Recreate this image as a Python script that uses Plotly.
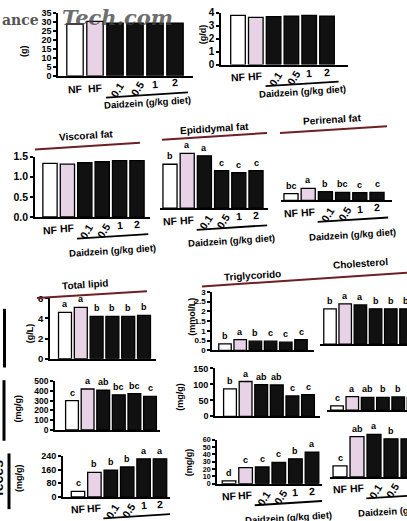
import math
import plotly.graph_objects as go

W, H = 407, 521

# ---------------- data ----------------
categories = ["NF", "HF", "0.1", "0.5", "1", "2"]
daidzein_label = "Daidzein (g/kg diet)"

body_weight = [29, 30.5, 29.5, 29.5, 29.5, 29.5]
food_intake = [3.8, 3.65, 3.7, 3.75, 3.8, 3.75]

visceral_fat = [1.33, 1.31, 1.35, 1.37, 1.40, 1.40]
epididymal_fat = [1.09, 1.36, 1.30, 0.93, 0.88, 0.93]
epididymal_letters = ["b", "a", "a", "c", "c", "c"]
perirenal_fat = [0.17, 0.30, 0.22, 0.20, 0.19, 0.20]
perirenal_letters = ["bc", "a", "b", "bc", "c", "c"]

serum_total_lipid = [4.6, 5.1, 4.2, 4.2, 4.2, 4.3]
serum_total_lipid_letters = ["a", "a", "b", "b", "b", "b"]
serum_tg = [0.33, 0.55, 0.47, 0.47, 0.42, 0.55]
serum_tg_letters = ["b", "a", "b", "c", "c", "c"]
serum_chol = [1.8, 2.05, 2.0, 1.8, 1.8, 1.8]
serum_chol_letters = ["b", "a", "a", "b", "b", "b"]

liver_total_lipid = [300, 420, 407, 360, 373, 345]
liver_total_lipid_letters = ["c", "a", "ab", "bc", "bc", "c"]
liver_tg = [86, 109, 99, 98, 64, 68]
liver_tg_letters = ["b", "a", "ab", "ab", "c", "c"]
liver_chol = [13, 42, 40, 40, 41, 40]
liver_chol_letters = ["c", "a", "ab", "b", "b", "b"]

fecal_lipid = [32, 143, 156, 175, 223, 223]
fecal_lipid_letters = ["c", "b", "b", "b", "a", "a"]
fecal_tg = [4, 22, 23, 29, 34, 43]
fecal_tg_letters = ["d", "c", "c", "c", "b", "a"]
fecal_chol = [15, 55, 58, 52, 52, 52]
fecal_chol_letters = ["c", "ab", "a", "b", "b", "b"]

bw_ticks = [0, 5, 10, 15, 20, 25, 30, 35]
fi_ticks = [0, 1, 2, 3, 4]
fat_ticks = [0, 0.5, 1.0, 1.5]
fat_ticktext = ["0.0", "0.5", "1.0", "1.5"]
tl_ticks = [0, 2, 4, 6]
mmol_ticks = [0, 0.5, 1, 1.5, 2, 2.5, 3]
mmol_ticktext = ["0", "0.5", "1", "1.5", "2", "2.5", "3"]
liver_tl_ticks = [0, 100, 200, 300, 400, 500]
liver_lip_ticks = [0, 50, 100, 150]
fecal_tl_ticks = [0, 80, 160, 240]
fecal_lip_ticks = [0, 10, 20, 30, 40, 50, 60]

fat_titles = ["Viscoral fat", "Epididymal fat", "Perirenal fat"]
lipid_titles = ["Total lipid", "Triglycorido", "Cholesterol"]
y_titles = ["(g)", "(g/d)", "(g/L)", "(mmol/L)", "(mg/g)", "(mg/g)", "(mg/g)", "(mg/g)"]

# ---------------- layout helpers ----------------
FONT = "Liberation Sans, Arial, sans-serif"
S = 0.065                       # slight tilt of the scanned figure
ANG = -math.degrees(math.atan(S))
BAR_COLORS = ["#ffffff", "#e8d2e6", "#111111", "#111111", "#111111", "#111111"]


def px(x):
    return x / W


def py(y):
    return 1 - y / H


panels = [
    dict(vals=body_weight, letters=None, axis=True, ticks=bw_ticks, tsize=9, left=58, nf=75, sp=20, right=193,
         base=71.5, pxu=1.83, ymax=35, xlabels=True, toff=29),
    dict(vals=food_intake, letters=None, axis=True, ticks=fi_ticks, tsize=10, left=221, nf=238, sp=17.8,
         right=348, base=60, pxu=13.25, ymax=4, xlabels=True, toff=29),
    dict(vals=visceral_fat, letters=None, axis=True, ticks=fat_ticks, ticktext=fat_ticktext, tsize=10.5,
         left=35, nf=50, sp=17.4, right=150, base=216, pxu=41.3, ymax=1.5, xlabels=True, toff=36),
    dict(vals=epididymal_fat, letters=epididymal_letters, axis=False, left=160, nf=170, sp=17.2, right=268,
         base=207, pxu=41.3, ymax=1.5, xlabels=True, toff=34),
    dict(vals=perirenal_fat, letters=perirenal_letters, axis=False, left=281, nf=291, sp=17.2, right=392,
         base=199, pxu=41.3, ymax=1.5, xlabels=True, toff=36),
    dict(vals=serum_total_lipid, letters=serum_total_lipid_letters, axis=True, ticks=tl_ticks, tsize=9.5,
         left=50, nf=65, sp=15.8, right=156, base=361, pxu=10.3, ymax=6),
    dict(vals=serum_tg, letters=serum_tg_letters, axis=True, ticks=mmol_ticks, ticktext=mmol_ticktext,
         tsize=8, left=212, nf=225, sp=15.2, right=314, base=352.5, pxu=20, ymax=3),
    dict(vals=serum_chol, letters=serum_chol_letters, axis=False, left=320, nf=330, sp=15.2, right=407,
         base=346, pxu=20, ymax=3),
    dict(vals=liver_total_lipid, letters=liver_total_lipid_letters, axis=True, ticks=liver_tl_ticks,
         tsize=8.5, left=55, nf=72, sp=15.6, right=160, base=434, pxu=0.1, ymax=500),
    dict(vals=liver_tg, letters=liver_tg_letters, axis=True, ticks=liver_lip_ticks, tsize=9,
         left=215, nf=230, sp=15.6, right=320, base=420, pxu=0.327, ymax=150),
    dict(vals=liver_chol, letters=liver_chol_letters, axis=False, left=327, nf=337, sp=15.3, right=407,
         base=413.6, pxu=0.327, ymax=150),
    dict(vals=fecal_lipid, letters=fecal_lipid_letters, axis=True, ticks=fecal_tl_ticks, tsize=9,
         left=63, nf=78, sp=16.4, right=170, base=502.5, pxu=0.175, ymax=240, xlabels=True, toff=36),
    dict(vals=fecal_tg, letters=fecal_tg_letters, axis=True, ticks=fecal_lip_ticks, tsize=7.2,
         left=217, nf=229, sp=16.6, right=322, base=489, pxu=0.75, ymax=60, xlabels=True, toff=36),
    dict(vals=fecal_chol, letters=fecal_chol_letters, axis=False, left=330, nf=340, sp=17, right=407,
         base=482, pxu=0.75, ymax=60, xlabels=True, toff=36),
]

fig = go.Figure()
annotations = []
shapes = []
layout = {}


def tilt_y(p, xpx, off):
    cx = p["nf"] + 2.5 * p["sp"]
    return p["base"] + off - S * (xpx - cx)


def bold(size, color="#000000", family=FONT):
    return dict(family=family, size=size, color=color, weight="bold")


for k, p in enumerate(panels, start=1):
    xa = "x" if k == 1 else f"x{k}"
    ya = "y" if k == 1 else f"y{k}"
    xkey = "xaxis" if k == 1 else f"xaxis{k}"
    ykey = "yaxis" if k == 1 else f"yaxis{k}"
    xs = list(range(len(categories)))

    fig.add_trace(go.Bar(
        x=xs, y=p["vals"], xaxis=xa, yaxis=ya, width=0.82,
        marker=dict(color=BAR_COLORS, line=dict(color="#000000", width=1.3)),
        showlegend=False, hoverinfo="skip"))

    x0r = (p["left"] - p["nf"]) / p["sp"]
    x1r = (p["right"] - p["nf"]) / p["sp"]
    layout[xkey] = dict(domain=[px(p["left"]), px(p["right"])], range=[x0r, x1r], anchor=ya,
                        showline=True, linecolor="#000000", linewidth=1.6, ticks="",
                        showticklabels=False, showgrid=False, zeroline=False, fixedrange=True)
    ytop = p["base"] - p["ymax"] * p["pxu"]
    yax = dict(domain=[py(p["base"]), py(ytop)], range=[0, p["ymax"]], anchor=xa,
               showgrid=False, zeroline=False, fixedrange=True)
    if p["axis"]:
        yax.update(showline=True, linecolor="#000000", linewidth=1.6, ticks="outside",
                   ticklen=3, tickwidth=1.5, tickcolor="#000000", tickvals=p["ticks"],
                   ticktext=p.get("ticktext", [str(t) for t in p["ticks"]]),
                   tickfont=bold(p.get("tsize", 9.5)))
    else:
        yax.update(visible=False)
    layout[ykey] = yax

    # significance letters
    if p["letters"]:
        for j, (v, t) in enumerate(zip(p["vals"], p["letters"])):
            annotations.append(dict(x=j, y=v, xref=xa, yref=ya, text=t, showarrow=False,
                                    xanchor="center", yanchor="bottom", yshift=1, font=bold(9)))

    # category labels and daidzein bracket
    if p.get("xlabels"):
        for j, c in enumerate(categories):
            xpx = p["nf"] + j * p["sp"]
            rot = c in ("0.1", "0.5")
            yy = tilt_y(p, xpx, 14 if rot else 10)
            annotations.append(dict(x=j + (0.1 if rot else 0), y=py(yy), xref=xa, yref="paper",
                                    text=c, showarrow=False, xanchor="center", yanchor="middle",
                                    textangle=-58 if rot else ANG, font=bold(10.5)))
        lx0, lx1 = 1.55, 5.65
        shapes.append(dict(type="line", xref=xa, yref="paper",
                           x0=lx0, x1=lx1,
                           y0=py(tilt_y(p, p["nf"] + lx0 * p["sp"], 21)),
                           y1=py(tilt_y(p, p["nf"] + lx1 * p["sp"], 21)),
                           line=dict(color="#000000", width=1.8)))
        tx = 3.6
        annotations.append(dict(x=tx, y=py(tilt_y(p, p["nf"] + tx * p["sp"], p["toff"])), xref=xa,
                                yref="paper", text=daidzein_label, showarrow=False,
                                textangle=ANG, xanchor="center", yanchor="middle", font=bold(9.5)))


def paper_text(t, x, y, size, angle=0.0, font=None):
    annotations.append(dict(x=px(x), y=py(y), xref="paper", yref="paper", text=t, showarrow=False,
                            xanchor="center", yanchor="middle", textangle=angle,
                            font=font or bold(size)))


# panel titles with maroon rules
title_pos = [(86, 133), (214, 125), (332, 116)]
title_lines = [((35, 147), (140, 140)), ((162, 137), (267, 130)), ((280, 130), (387, 123))]
for t, (x, y) in zip(fat_titles, title_pos):
    paper_text(t, x, y, 10, ANG)
lip_pos = [(85, 285), (252, 276), (360, 264)]
for t, (x, y) in zip(lipid_titles, lip_pos):
    paper_text(t, x, y, 10, ANG)
title_lines += [((37, 299), (147, 292)), ((202, 287), (407, 273))]
for (a, b) in title_lines:
    shapes.append(dict(type="line", xref="paper", yref="paper", x0=px(a[0]), y0=py(a[1]),
                       x1=px(b[0]), y1=py(b[1]), line=dict(color="#6e1f24", width=2)))

# y-axis titles
yt_pos = [(24, 46), (203, 29), (30, 335), (192, 318), (18, 412), (180, 400), (19, 483), (189, 467)]
for t, (x, y) in zip(y_titles, yt_pos):
    paper_text(t, x, y, 9, -90)

# row group markers on the far left
for (x, y0, y1) in [(4.5, 310, 370), (4, 383, 445), (9, 458, 515)]:
    shapes.append(dict(type="line", xref="paper", yref="paper", x0=px(x), x1=px(x), y0=py(y0), y1=py(y1),
                       line=dict(color="#000000", width=3)))
paper_text("feces", -2, 483, 14, -90)

# watermark of the source scan
annotations.append(dict(x=px(0), y=py(14), xref="paper", yref="paper", text="ance", showarrow=False,
                        xanchor="left", yanchor="middle",
                        font=bold(14, "#555555", "DejaVu Serif")))
annotations.append(dict(x=px(60), y=py(12), xref="paper", yref="paper", text="Tech.com", showarrow=False,
                        xanchor="left", yanchor="middle",
                        font=dict(family="DejaVu Serif", size=21, color="rgba(70,70,70,0.8)",
                                  weight="bold", style="italic")))

fig.update_layout(width=W, height=H, margin=dict(l=0, r=0, t=0, b=0), paper_bgcolor="white",
                  plot_bgcolor="rgba(0,0,0,0)", annotations=annotations, shapes=shapes,
                  bargap=0.2, **layout)

fig.write_html("out.html")
